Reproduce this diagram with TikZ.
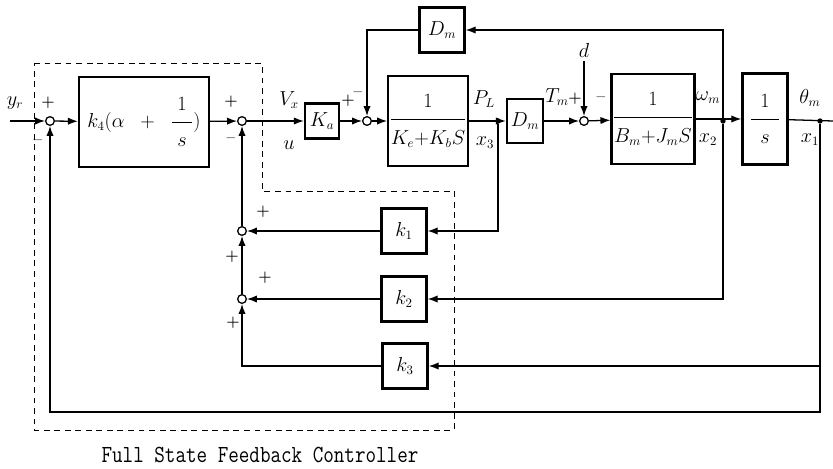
\documentclass[tikz,border=0pt]{standalone}
\usepackage{amsmath,amssymb}
\usepackage{graphicx}
\usepackage{tikz}
\usetikzlibrary{arrows.meta}
\newcommand{\blkfrac}[2]{\dfrac{\rule[-8pt]{0pt}{8pt}#1}{\rule{0pt}{19pt}#2}}

\begin{document}
\begin{tikzpicture}[x=0.3mm, y=-0.3mm,
    font=\fontsize{16}{19}\selectfont,
    blk/.style={draw, line width=2pt, inner sep=1pt, align=center},
    sum/.style={draw, circle, line width=1.1pt, minimum size=2.6mm, inner sep=0pt},
    dot/.style={circle, fill, minimum size=1.6mm, inner sep=0pt},
    arr/.style={-{Latex[length=3mm,width=2.2mm]}, line width=1.1pt},
    wire/.style={line width=1.1pt},
    sgn/.style={font=\fontsize{13}{15}\selectfont\bfseries}
  ]
    \useasboundingbox (0,0) rectangle (833,469);
    % Controller frame
    \draw[line width=0.8pt, dash pattern=on 5pt off 4pt]
      (34,63) -- (262,63) -- (262,191) -- (454,191) -- (454,430) -- (34,430) -- cycle;
    % Summing junctions
    \node[sum] (s1) at (50,121) {};
    \node[sum] (s2) at (242,121) {};
    \node[sum] (s3) at (367,121) {};
    \node[sum] (s4) at (584,121) {};
    \node[sum] (s5) at (242,231) {};
    \node[sum] (s6) at (242,299) {};
    % Blocks
    \node[blk, minimum width=39mm, minimum height=27mm] (k4) at (144,122)
      {$k_4(\alpha\;\;+\;\;\blkfrac{1}{\makebox[17pt]{$s$}})$};
    \node[blk, minimum width=10.2mm, minimum height=10.5mm] (ka) at (322,121) {$K_a$};
    \node[blk, minimum width=13.5mm, minimum height=13.5mm] (dmf) at (442,30) {$D_m$};
    \node[blk, minimum width=23.1mm, minimum height=27mm] (g1) at (428,121)
      {$\blkfrac{1}{K_e{+}K_b S}$};
    \node[blk, minimum width=10.8mm, minimum height=13.2mm] (dm) at (525,121) {$D_m$};
    \node[blk, minimum width=23.1mm, minimum height=27mm] (g2) at (653,119)
      {$\blkfrac{1}{B_m{+}J_m S}$};
    \node[blk, minimum width=13.5mm, minimum height=27.3mm] (g3) at (765,119)
      {$\blkfrac{1}{\makebox[24pt]{$s$}}$};
    \node[blk, minimum width=13.5mm, minimum height=13.5mm] (k1) at (404,231) {$k_1$};
    \node[blk, minimum width=13.5mm, minimum height=13.5mm] (k2) at (404,299) {$k_2$};
    \node[blk, minimum width=13.5mm, minimum height=13.5mm] (k3) at (405,366) {$k_3$};
    % Branch points
    \node[dot] (b1) at (498,121) {};
    \node[dot] (b2) at (723,121) {};
    \node[dot] (b3) at (820,121) {};
    \coordinate (in) at (10,121);
    \coordinate (out) at (833,121);
    \coordinate (br) at (820,412);
    \coordinate (bl) at (50,412);
    % Labels
    \node (yr) at (15,103) {$y_r$};
    \node (vx) at (289,100) {$V_x$};
    \node (u) at (289,145) {$u$};
    \node (pl) at (484,99) {$P_L$};
    \node (x3) at (485,143) {$x_3$};
    \node (wm) at (708,98) {$\omega_m$};
    \node (x2) at (708,140) {$x_2$};
    \node (tm) at (810,98) {$\theta_m$};
    \node (x1) at (810,140) {$x_1$};
    \node (d) at (584,50) {$d$};
    \node (tq) at (557,97) {$T_m$};
    % Signs
    \node[sgn] at (48,103) {+};
    \node[sgn] at (38,142) {--};
    \node[sgn] at (231,102) {+};
    \node[sgn] at (231,140) {--};
    \node[sgn] at (348,101) {+};
    \node[sgn] at (358,94) {--};
    \node[sgn] at (575,99) {+};
    \node[sgn] at (601,99) {--};
    \node[sgn] at (263,212) {+};
    \node[sgn] at (232,257) {+};
    \node[sgn] at (265,278) {+};
    \node[sgn] at (233,323) {+};
    % Forward path
    \draw[arr] (in) -- (s1);
    \draw[arr] (s1) -- (k4);
    \draw[arr] (k4) -- (s2);
    \draw[arr] (s2) -- (ka);
    \draw[arr] (ka) -- (s3);
    \draw[arr] (s3) -- (g1);
    \draw[arr] (g1) -- (dm);
    \draw[arr] (dm) -- (s4);
    \draw[arr] (d) -- (s4);
    \draw[arr] (s4) -- (g2);
    \draw[arr] (g2) -- (g3);
    \draw[wire] (g3) -- (out);
    % Inner loop
    \draw[arr] (b2) |- (dmf.east);
    \draw[arr] (dmf.west) -| (s3);
    % State feedback
    \draw[arr] (b1) |- (k1.east);
    \draw[arr] (b2) |- (k2.east);
    \draw[arr] (b3) |- (k3.east);
    \draw[arr] (k1) -- (s5);
    \draw[arr] (k2) -- (s6);
    \draw[arr] (k3.west) -| (s6);
    \draw[arr] (s6) -- (s5);
    \draw[arr] (s5) -- (s2);
    \draw[arr] (b3) -- (br) -- (bl) -- (s1);
    % Caption
    \node[font=\fontsize{17.5}{20}\selectfont\ttfamily] (cap) at (260,455)
      {\scalebox{1}[1.2]{Full State Feedback Controller}};
\end{tikzpicture}
\end{document}
